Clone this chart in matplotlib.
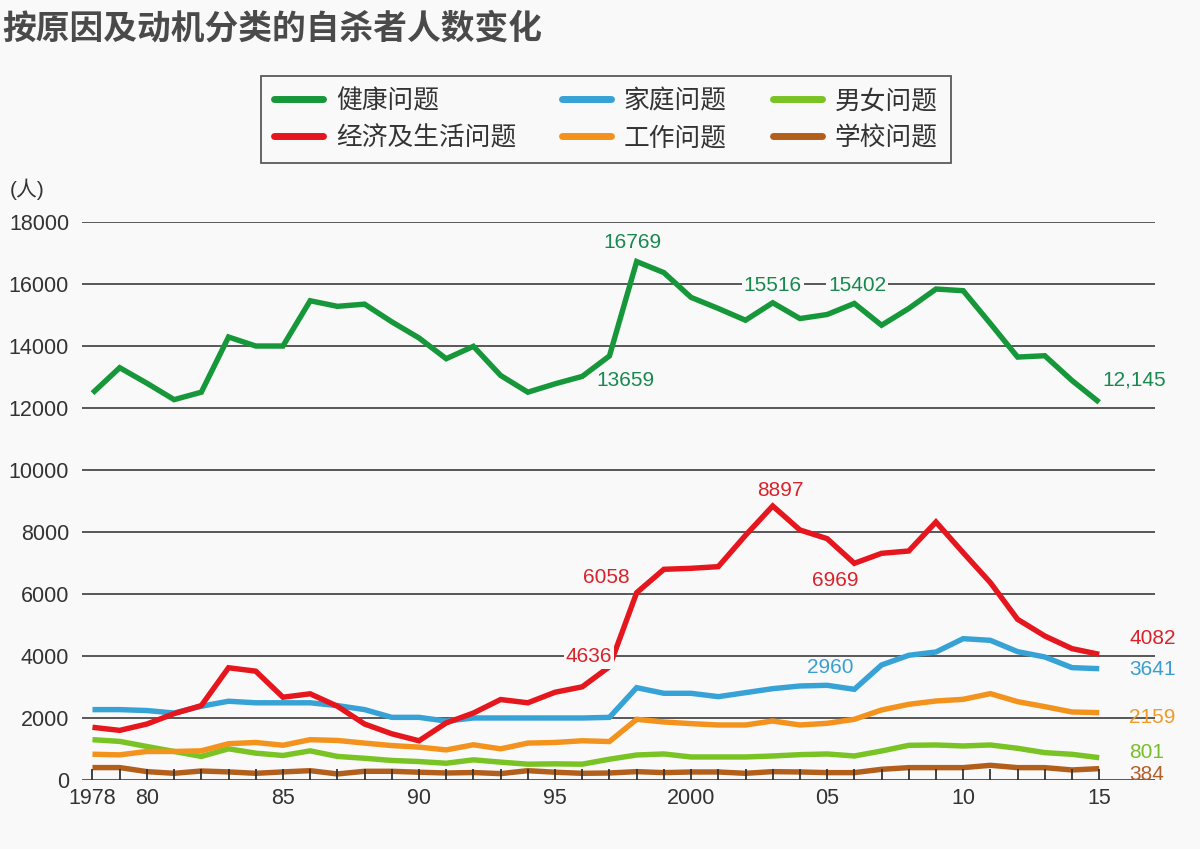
import numpy as np
import matplotlib
matplotlib.use('Agg')
import matplotlib.pyplot as plt

plt.rcParams['font.family'] = ['Liberation Sans', 'Noto Sans CJK SC', 'DejaVu Sans']

years = list(range(1978, 2016))

# 健康问题
health = [12480, 13300, 12800, 12270, 12510, 14290, 14000, 14000, 15460, 15280,
          15350, 14780, 14260, 13590, 13990, 13050, 12510, 12780, 13020, 13680,
          16724, 16368, 15568, 15211, 14832, 15395, 14886, 15016, 15373, 14670,
          15211, 15838, 15784, 14724, 13643, 13686, 12886, 12184]
# 经济及生活问题
economy = [1700, 1600, 1805, 2140, 2400, 3620, 3510, 2670, 2780, 2380,
           1805, 1490, 1265, 1840, 2160, 2595, 2490, 2830, 3005, 3656,
           6043, 6796, 6828, 6882, 7892, 8839, 8065, 7785, 6989, 7312,
           7387, 8323, 7333, 6366, 5183, 4645, 4237, 4054]
# 家庭问题
family = [2270, 2270, 2240, 2160, 2380, 2540, 2490, 2490, 2490, 2400,
          2270, 2020, 2020, 1900, 2000, 2000, 2000, 2000, 2000, 2020,
          2978, 2796, 2796, 2688, 2817, 2946, 3032, 3054, 2925, 3710,
          4022, 4129, 4559, 4505, 4140, 3968, 3624, 3591]
# 工作问题
work = [830, 810, 920, 920, 940, 1170, 1210, 1120, 1300, 1275,
        1190, 1110, 1060, 970, 1135, 1005, 1190, 1210, 1265, 1240,
        1957, 1871, 1817, 1774, 1774, 1903, 1774, 1828, 1957, 2258,
        2441, 2548, 2602, 2785, 2527, 2366, 2194, 2172]
# 男女问题
couple = [1300, 1245, 1080, 920, 760, 1005, 865, 790, 940, 760,
          700, 630, 595, 540, 650, 575, 510, 520, 510, 670,
          806, 839, 742, 742, 742, 774, 817, 839, 774, 935,
          1118, 1129, 1097, 1129, 1022, 882, 828, 720]
# 学校问题
school = [400, 400, 270, 215, 290, 260, 215, 260, 300, 195,
          280, 280, 250, 225, 240, 205, 300, 250, 215, 225,
          269, 237, 258, 258, 215, 269, 258, 237, 237, 344,
          398, 398, 398, 473, 398, 398, 323, 366]

series_names = ['健康问题', '经济及生活问题', '家庭问题', '工作问题', '男女问题', '学校问题']
line_colors = ['#16973a', '#e5161d', '#36a2d6', '#f3931d', '#79c324', '#b25f1c']

year_ticks = [1978, 1980, 1985, 1990, 1995, 2000, 2005, 2010, 2015]
year_labels = ['1978', '80', '85', '90', '95', '2000', '05', '10', '15']

bg = '#f9f9f9'
fig = plt.figure(figsize=(12, 8.49), dpi=100, facecolor=bg)
ax = fig.add_axes([0.068, 0.0813, 0.8945, 0.6572], facecolor=bg)

data = [health, economy, family, work, couple, school]
handles = {}
# draw bottom series first so the big ones sit on top
for k in [5, 4, 3, 2, 1, 0]:
    ln, = ax.plot(years, data[k], color=line_colors[k], lw=3.9,
                  solid_joinstyle='miter', solid_capstyle='butt', zorder=3 + (5 - k) * 0.1,
                  label=series_names[k])
    handles[k] = ln

ax.set_xlim(1977.6, 2017.05)
ax.set_ylim(0, 18000)
ax.set_yticks(range(0, 18001, 2000))
ax.yaxis.grid(True, color='#4a4a4a', lw=1.3, zorder=1)
ax.set_axisbelow(True)
ax.xaxis.set_zorder(4)  # year ticks sit over the lines, like the original
for s in ax.spines.values():
    s.set_visible(False)

ax.set_xticks(years, minor=True)
ax.set_xticks(year_ticks)
ax.set_xticklabels(year_labels)
ax.tick_params(axis='x', which='both', direction='in', length=8, width=1.3,
               color='#333333', labelsize=15.5, labelcolor='#333333', pad=6)
ax.tick_params(axis='y', length=0, labelsize=15.5, labelcolor='#333333', pad=9)

fig.text(0.008, 0.765, '(人)', fontsize=15, color='#333333', ha='left', va='bottom')

fig.text(0.002, 0.988, '按原因及动机分类的自杀者人数变化', fontsize=24.3, fontweight='bold',
         color='#4a4a4a', ha='left', va='top', family=['Noto Sans CJK SC', 'DejaVu Sans'])

# value labels
lbl = dict(fontsize=15, ha='center', va='center', zorder=5)
boxed = dict(boxstyle='square,pad=0.1', fc=bg, ec='none')
green_t = '#18884f'
red_t = '#d9232b'
ax.text(1997.83, 17355, '16769', color=green_t, **lbl)
ax.text(1997.6, 12900, '13659', color=green_t, **lbl)
ax.text(2003.0, 15968, '15516', color=green_t, bbox=boxed, **lbl)
ax.text(2006.1, 15968, '15402', color=green_t, bbox=boxed, **lbl)
ax.text(2016.3, 12900, '12,145', color=green_t, clip_on=False, **lbl)
ax.text(2003.3, 9323, '8897', color=red_t, **lbl)
ax.text(1996.9, 6516, '6058', color=red_t, **lbl)
ax.text(2005.3, 6450, '6969', color=red_t, **lbl)
ax.text(1996.25, 3968, '4636', color=red_t, bbox=boxed, **lbl)
ax.text(2005.1, 3613, '2960', color='#3a9fd0', **lbl)
ax.text(2016.1, 4580, '4082', color=red_t, ha='left', va='center', fontsize=15, clip_on=False)
ax.text(2016.1, 3548, '3641', color='#3a9fd0', ha='left', va='center', fontsize=15, clip_on=False)
ax.text(2016.1, 2000, '2159', color='#ef9a2a', ha='left', va='center', fontsize=15, clip_on=False)
ax.text(2016.1, 871, '801', color='#78bd2a', ha='left', va='center', fontsize=15, clip_on=False)
ax.text(2016.1, 161, '384', color='#b0602a', ha='left', va='center', fontsize=15, clip_on=False)

order = [0, 1, 2, 3, 4, 5]
leg = fig.legend([handles[k] for k in order], [series_names[k] for k in order],
                 loc='center', bbox_to_anchor=(0.505, 0.859), bbox_transform=fig.transFigure,
                 ncol=3, fontsize=18.5, frameon=True, fancybox=False, handlelength=1.9,
                 handletextpad=0.5, columnspacing=1.8, labelspacing=0.5,
                 borderpad=0.5, borderaxespad=0)
leg.get_frame().set_edgecolor('#333333')
leg.get_frame().set_linewidth(1.3)
leg.get_frame().set_facecolor(bg)
for t in leg.get_texts():
    t.set_color('#333333')
for h in leg.legend_handles:
    h.set_linewidth(5)
    h.set_solid_capstyle('round')

fig.savefig('out.png', dpi=100, facecolor=bg)
